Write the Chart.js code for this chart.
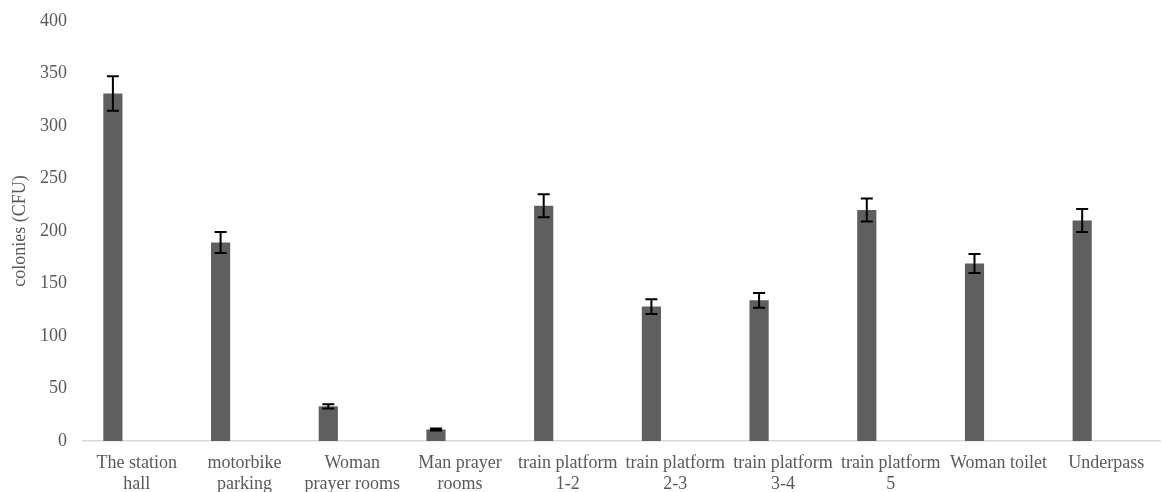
<!DOCTYPE html>
<html>
<head>
<meta charset="utf-8">
<script src="https://cdn.jsdelivr.net/npm/chart.js@4/dist/chart.umd.min.js"></script>
<style>
  html, body { margin: 0; padding: 0; background: #fff; }
  #wrap { width: 1162px; height: 492px; }
</style>
</head>
<body>
<div id="wrap"><canvas id="chart" width="1162" height="492"></canvas></div>
<script>
// data
const categories = [
  ['The station', 'hall'],
  ['motorbike', 'parking'],
  ['Woman', 'prayer rooms'],
  ['Man prayer', 'rooms'],
  ['train platform', '1-2'],
  ['train platform', '2-3'],
  ['train platform', '3-4'],
  ['train platform', '5'],
  'Woman toilet',
  'Underpass'
];
const colonies = [331, 189, 33, 11, 224, 128, 134, 220, 169, 210];
const errors = [16.5, 10, 2, 1, 11, 7, 7, 11, 9, 11];
const yTicks = [0, 50, 100, 150, 200, 250, 300, 350, 400];

const serif = '"Liberation Serif", "Times New Roman", serif';

// error bar drawing
const errorBars = {
  id: 'errorBars',
  afterDatasetsDraw(chart) {
    const ctx = chart.ctx;
    const meta = chart.getDatasetMeta(0);
    const y = chart.scales.y;
    ctx.save();
    ctx.strokeStyle = '#000';
    ctx.lineWidth = 2;
    meta.data.forEach(function (bar, i) {
      const top = y.getPixelForValue(colonies[i] + errors[i]);
      const bot = y.getPixelForValue(colonies[i] - errors[i]);
      const x = bar.x;
      ctx.beginPath();
      ctx.moveTo(x, top); ctx.lineTo(x, bot);
      ctx.moveTo(x - 6, top); ctx.lineTo(x + 6, top);
      ctx.moveTo(x - 6, bot); ctx.lineTo(x + 6, bot);
      ctx.stroke();
    });
    ctx.restore();
  }
};

new Chart(document.getElementById('chart'), {
  type: 'bar',
  data: {
    labels: categories,
    datasets: [
      {
        data: colonies,
        backgroundColor: '#5f5f5f',
        barPercentage: 0.4,
        categoryPercentage: 0.89
      },
      {
        data: colonies.map(() => null),
        backgroundColor: 'transparent',
        barPercentage: 0.4,
        categoryPercentage: 0.89
      }
    ]
  },
  options: {
    responsive: false,
    animation: false,
    layout: { padding: { top: 21, right: 2, left: 0, bottom: 0 } },
    plugins: {
      legend: { display: false },
      tooltip: { enabled: false }
    },
    scales: {
      x: {
        grid: { display: false, drawTicks: false },
        border: { display: true, color: '#d9d9d9', width: 1.5 },
        ticks: {
          color: '#595959',
          font: { family: serif, size: 18, lineHeight: 1.17 },
          maxRotation: 0,
          autoSkip: false,
          padding: 12
        },
        afterFit(scale) { scale.height = 51; }
      },
      y: {
        min: 0,
        max: 400,
        afterBuildTicks(scale) { scale.ticks = yTicks.map(v => ({ value: v })); },
        grid: { display: false, drawTicks: false },
        border: { display: false },
        ticks: {
          color: '#595959',
          font: { family: serif, size: 18 },
          padding: 16
        },
        title: {
          display: true,
          text: 'colonies (CFU)',
          color: '#595959',
          font: { family: serif, size: 18 },
          padding: { top: 9, bottom: 0 }
        },
        afterFit(scale) {
          scale.width = 83;
          scale.paddingTop = 0;
          scale.paddingBottom = 0;
        }
      }
    }
  },
  plugins: [errorBars]
});
</script>
</body>
</html>
